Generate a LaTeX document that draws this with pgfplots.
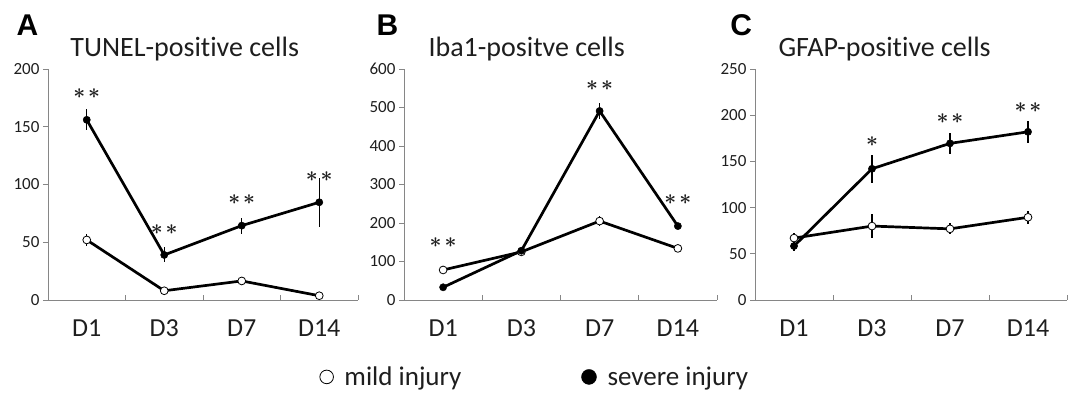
\documentclass[border=0pt]{standalone}
\usepackage{fontspec}
\setmainfont{Carlito}[Ligatures=NoCommon]
\newfontfamily\letterfont{Liberation Sans}
\usepackage{pgfplots}
\pgfplotsset{compat=1.18}
\definecolor{axgray}{RGB}{134,134,134}
\definecolor{txt}{RGB}{30,30,30}
\pgfplotsset{
  panel/.style={
    scale only axis, height=231pt,
    xmin=-0.5, xmax=3.5, ymin=0,
    clip=false,
    axis x line=bottom, axis y line=left,
    axis line style={axgray, line width=0.9pt, -},
    xtick={0,1,2,3}, xticklabels={D1,D3,D7,D14},
    minor xtick={0.5,1.5,2.5,3.5},
    major x tick style={draw=none},
    minor x tick style={axgray, line width=0.9pt, yshift=5pt},
    y tick style={axgray, line width=0.9pt},
    tick align=outside,
    major tick length=5pt, minor tick length=5pt,
    x tick label style={font=\fontsize{26}{26}\selectfont, anchor=base, yshift=-32pt, text=txt},
    y tick label style={font=\fontsize{17}{17}\selectfont, text=txt},
    /pgf/number format/assume math mode=true,
  },
  ebars/.style={error bars/y dir=both, error bars/y explicit,
    error bars/error bar style={line width=1.1pt, black}, error bars/error mark=none},
  severe/.style={black, line width=2.7pt, mark=*, mark size=3.6pt,
    mark options={fill=black, draw=black, line width=0.5pt}, ebars},
  mild/.style={black, line width=2.7pt, mark=*, mark size=3.9pt,
    mark options={fill=white, draw=black, line width=0.8pt}, ebars},
}
\tikzset{
  ttl/.style={anchor=base west, font=\fontsize{28}{28}\selectfont, text=txt},
  lett/.style={anchor=base west, font=\fontsize{30}{30}\letterfont\bfseries},
  star/.style={font=\fontsize{22}{22}\selectfont\boldmath, text=txt},
}
\newcommand{\two}{$\ast$\hspace{3pt}$\ast$}
\newcommand{\one}{$\ast$}
\begin{document}
\begin{tikzpicture}
\path[use as bounding box] (0,0) rectangle (1072pt,393pt);
% Panel A
\begin{axis}[panel, at={(48pt,93pt)}, width=310pt, ymax=200, ytick={0,50,100,150,200}]
\addplot+[mild] coordinates {(0,52) +- (0,5) (1,8) +- (0,1.5) (2,16.5) +- (0,2) (3,3.7) +- (0,1)};
\addplot+[severe] coordinates {(0,156) +- (0,9) (1,39) +- (0,6.5) (2,64.4) +- (0,7) (3,84.6) +- (0,21)};
\node[lett] at (rel axis cs:-0.113,1.147) {A};
\node[ttl] at (rel axis cs:0.061,1.053) {TUNEL-positive cells};
\node[star] at (axis cs:0,179) {\two};
\node[star] at (axis cs:1,61) {\two};
\node[star] at (axis cs:2,87) {\two};
\node[star] at (axis cs:3,107) {\two};
\end{axis}
% Panel B
\begin{axis}[panel, at={(404pt,93pt)}, width=313pt, ymax=600, ytick={0,100,...,600},
  legend style={at={(rel axis cs:0.4185,-0.333)}, anchor=center, draw=none,
    legend columns=2, font=\fontsize{27}{27}\selectfont, text=txt,
    /tikz/every even column/.append style={column sep=118pt},
    /tikz/every odd column/.append style={column sep=9pt}}]
\addplot+[forget plot, mild] coordinates {(0,78) +- (0,3) (1,125) +- (0,8) (2,205) +- (0,12) (3,134) +- (0,3)};
\addplot+[forget plot, severe] coordinates {(0,33) +- (0,4) (1,128) +- (0,5) (2,491) +- (0,20) (3,192) +- (0,8)};
\addlegendimage{only marks, mark=*, mark size=6.8pt, mark options={fill=white, draw=black, line width=0.8pt}}
\addlegendentry{mild injury}
\addlegendimage{only marks, mark=*, mark size=7.5pt, mark options={fill=black, draw=black}}
\addlegendentry{severe injury}
\node[lett] at (rel axis cs:-0.099,1.147) {B};
\node[ttl] at (rel axis cs:0.067,1.053) {Iba1-positve cells};
\node[star] at (axis cs:0,149) {\two};
\node[star] at (axis cs:2,558) {\two};
\node[star] at (axis cs:3,261) {\two};
\end{axis}
% Panel C
\begin{axis}[panel, at={(755pt,93pt)}, width=312pt, ymax=250, ytick={0,50,...,250}]
\addplot+[mild] coordinates {(0,67) +- (0,6) (1,80) +- (0,13) (2,77) +- (0,6) (3,89.5) +- (0,7)};
\addplot+[severe] coordinates {(0,58.4) +- (0,5) (1,142) +- (0,15) (2,169.5) +- (0,11) (3,182) +- (0,12)};
\node[lett] at (rel axis cs:-0.09,1.147) {C};
\node[ttl] at (rel axis cs:0.064,1.053) {GFAP-positive cells};
\node[star] at (axis cs:1,171) {\one};
\node[star] at (axis cs:2,196.6) {\two};
\node[star] at (axis cs:3,208.5) {\two};
\end{axis}
\end{tikzpicture}
\end{document}
